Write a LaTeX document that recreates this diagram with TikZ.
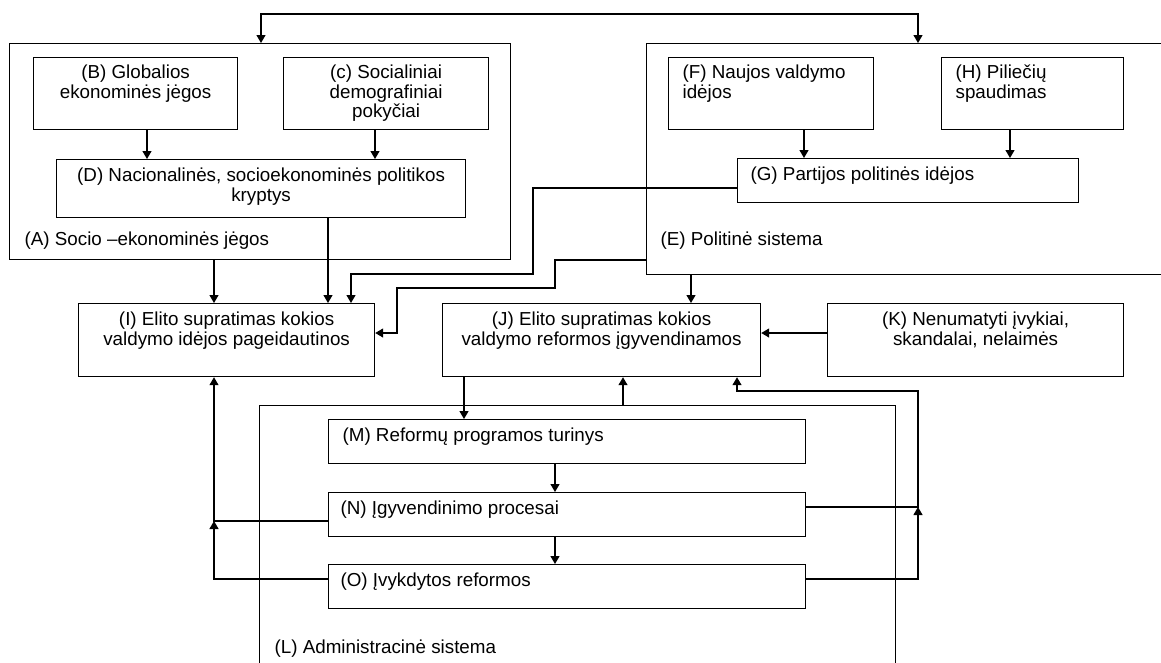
\documentclass[tikz,border=0pt]{standalone}
\usepackage{fontspec}
\setmainfont{Liberation Sans}
\usetikzlibrary{arrows.meta}
\begin{document}
\begin{tikzpicture}[x=1pt,y=-1pt,line width=1.2pt,
  bx/.style={draw,rectangle,inner sep=0pt,anchor=north west},
  txt/.style={inner sep=0pt,font=\fontsize{18.8}{19.6}\selectfont},
  arr/.style={-{Triangle[length=8pt,width=9pt]}},
  darr/.style={{Triangle[length=8pt,width=9pt]}-{Triangle[length=8pt,width=9pt]}}]
\useasboundingbox (0,0) rectangle (1161,662);
\clip (0,0) rectangle (1161,662);
% containers
\node[bx,minimum width=501pt,minimum height=216pt] (A) at (9,43) {};
\node[bx,minimum width=530pt,minimum height=231pt] (E) at (646,43) {};
\node[bx,minimum width=636pt,minimum height=300pt] (L) at (259,405) {};
% boxes
\node[bx,minimum width=204pt,minimum height=72pt] (B) at (33,57) {};
\node[bx,minimum width=205pt,minimum height=72pt] (C) at (283,57) {};
\node[bx,minimum width=409pt,minimum height=58pt] (D) at (56,159) {};
\node[bx,minimum width=205pt,minimum height=72pt] (F) at (668,57) {};
\node[bx,minimum width=182pt,minimum height=72pt] (H) at (941,57) {};
\node[bx,minimum width=341pt,minimum height=44pt] (G) at (737,158) {};
\node[bx,minimum width=296pt,minimum height=73pt] (I) at (78,303) {};
\node[bx,minimum width=318pt,minimum height=73pt] (J) at (442,303) {};
\node[bx,minimum width=296pt,minimum height=73pt] (K) at (827,303) {};
\node[bx,minimum width=477pt,minimum height=44pt] (M) at (328,419) {};
\node[bx,minimum width=477pt,minimum height=44pt] (N) at (328,492) {};
\node[bx,minimum width=477pt,minimum height=44pt] (O) at (328,564) {};
% texts
\node[txt,anchor=north,align=center] (Bt) at ([yshift=-7.5pt]B.north) {(B) Globalios\\ekonominės jėgos};
\node[txt,anchor=north,align=center] (Ct) at ([yshift=-7.5pt]C.north) {(c) Socialiniai\\demografiniai\\pokyčiai};
\node[txt,anchor=north,align=center] (Dt) at ([yshift=-8.5pt]D.north) {(D) Nacionalinės, socioekonominės politikos\\kryptys};
\node[txt,anchor=north west,align=left] (Ft) at ([xshift=14pt,yshift=-7.5pt]F.north west) {(F) Naujos valdymo\\idėjos};
\node[txt,anchor=north west,align=left] (Ht) at ([xshift=14pt,yshift=-7.5pt]H.north west) {(H) Piliečių\\spaudimas};
\node[txt,anchor=west] (Gt) at ([xshift=13pt,yshift=4.5pt]G.west) {(G) Partijos politinės idėjos};
\node[txt,anchor=north,align=center] (It) at ([yshift=-8.5pt]I.north) {(I) Elito supratimas kokios\\valdymo idėjos pageidautinos};
\node[txt,anchor=north,align=center] (Jt) at ([yshift=-8.5pt]J.north) {(J) Elito supratimas kokios\\valdymo reformos įgyvendinamos};
\node[txt,anchor=north,align=center] (Kt) at ([yshift=-8.5pt]K.north) {(K) Nenumatyti įvykiai,\\skandalai, nelaimės};
\node[txt,anchor=west] (Mt) at ([xshift=14pt,yshift=5pt]M.west) {(M) Reformų programos turinys};
\node[txt,anchor=west] (Nt) at ([xshift=12pt,yshift=5pt]N.west) {(N) Įgyvendinimo procesai};
\node[txt,anchor=west] (Ot) at ([xshift=12pt,yshift=5pt]O.west) {(O) Įvykdytos reformos};
\node[txt,anchor=west] (At) at (24,241) {(A) Socio –ekonominės jėgos};
\node[txt,anchor=west] (Et) at (660,241) {(E) Politinė sistema};
\node[txt,anchor=west] (Lt) at (274,649) {(L) Administracinė sistema};
% coordinates
\coordinate (t1) at (261,14);
\coordinate (t2) at (918,14);
\coordinate (xBD) at (147,0);
\coordinate (xCD) at (375,0);
\coordinate (xFG) at (804,0);
\coordinate (xHG) at (1010,0);
\coordinate (xAI) at (214,0);
\coordinate (xDI) at (328,0);
\coordinate (g1) at (533,188);
\coordinate (g2) at (351,274);
\coordinate (e1) at (555,260);
\coordinate (e2) at (397,288);
\coordinate (e3) at (397,333);
\coordinate (xEJ) at (691,0);
\coordinate (xJM) at (464,0);
\coordinate (xLJ) at (623,0);
\coordinate (xMN) at (555,0);
\coordinate (n1) at (918,507);
\coordinate (n2) at (737,391);
\coordinate (o1) at (918,579);
\coordinate (nl) at (214,521);
\coordinate (ol) at (214,579);
% connectors
\draw[darr] (A.north -| t1) -- (t1) -- (t2) -- (E.north -| t2);
\draw[arr] (B.south -| xBD) -- (D.north -| xBD);
\draw[arr] (C.south -| xCD) -- (D.north -| xCD);
\draw[arr] (F.south -| xFG) -- (G.north -| xFG);
\draw[arr] (H.south -| xHG) -- (G.north -| xHG);
\draw[arr] (A.south -| xAI) -- (I.north -| xAI);
\draw[arr] (D.south -| xDI) -- (I.north -| xDI);
\draw[arr] (G.west |- g1) -- (g1) |- (g2) -- (I.north -| g2);
\draw[arr] (E.west |- e1) -- (e1) |- (e2) -- (e3) -- (I.east |- e3);
\draw[arr] (E.south -| xEJ) -- (J.north -| xEJ);
\draw[arr] (K.west |- e3) -- (J.east |- e3);
\draw[arr] (J.south -| xJM) -- (M.north -| xJM);
\draw[arr] (L.north -| xLJ) -- (J.south -| xLJ);
\draw[arr] (M.south -| xMN) -- (N.north -| xMN);
\draw[arr] (N.south -| xMN) -- (O.north -| xMN);
\draw[arr] (N.east |- n1) -- (n1) |- (n2) -- (J.south -| n2);
\draw[arr] (O.east |- o1) -- (o1) -- (n1);
\draw[arr] (N.west |- nl) -- (nl) -- (I.south -| nl);
\draw[arr] (O.west |- ol) -- (ol) -- (nl);
\end{tikzpicture}
\end{document}
